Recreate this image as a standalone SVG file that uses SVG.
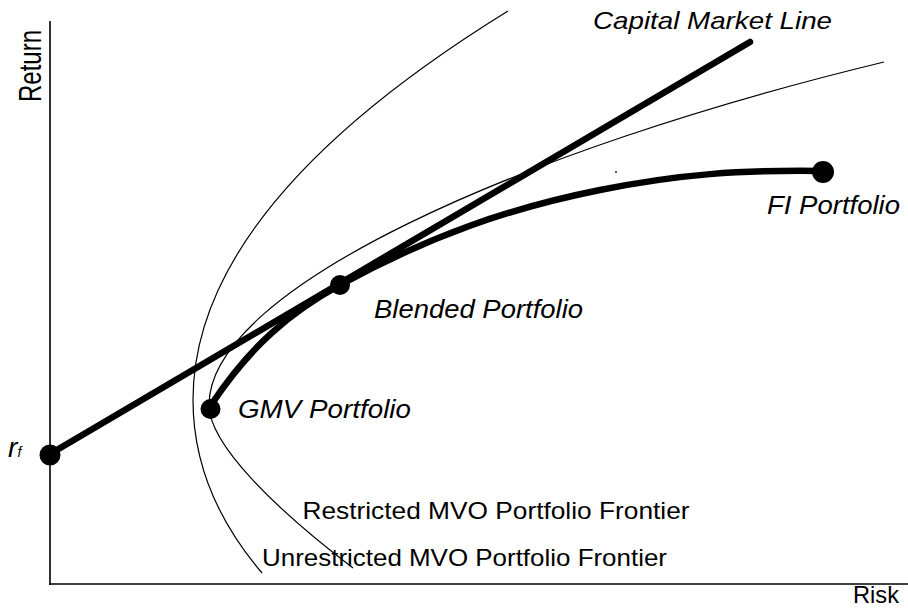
<svg xmlns="http://www.w3.org/2000/svg" width="908" height="610" viewBox="0 0 908 610">
  <style>
    .axis { stroke: #000; stroke-width: 1.6; fill: none; }
    .thin { stroke: #000; stroke-width: 1.2; fill: none; }
    .thick { stroke: #000; stroke-width: 6.5; fill: none; stroke-linecap: round; }
    .dot { fill: #000; }
    .lbl { font-family: "Liberation Sans", Arial, sans-serif; font-size: 24px; fill: #000; }
    .it { font-family: "Liberation Sans", Arial, sans-serif; font-size: 25px; font-style: italic; fill: #000; }
  </style>
  <rect width="908" height="610" fill="#fff"/>

  <g id="axes">
    <line class="axis" x1="50" y1="21" x2="50" y2="585"/>
    <line class="axis" x1="49.2" y1="584" x2="908" y2="584"/>
    <text class="lbl" transform="translate(41,102) scale(1.3,1) rotate(-90)">Return</text>
    <text class="lbl" x="853" y="603" textLength="46" lengthAdjust="spacingAndGlyphs">Risk</text>
  </g>

  <g id="connectors">
    <!-- unrestricted mean-variance frontier (near-parabolic) -->
    <path id="unrestricted-frontier" class="thin" d="M508,11 Q193,205.5 193,400 C193,440 202.5,503 262,573"/>
    <!-- restricted mean-variance frontier -->
    <path id="restricted-frontier" class="thin" d="M884,62 C520,150 209,288 209,405 C209,445 278,511 353,568"/>
    <!-- capital market line -->
    <line id="cml" class="thick" x1="50" y1="454" x2="750" y2="42"/>
    <!-- blended portfolio path from GMV to FI -->
    <path id="blend-path" class="thick" d="M211,405 C251,345 290,312.5 340,285 C430,235.5 510,208 600,190 C680,174 740,170 820,171"/>
    <circle cx="616" cy="172" r="0.9" class="dot"/>
  </g>

  <g id="risk-free">
    <circle class="dot" cx="50" cy="455" r="10.5"/>
    <text class="it" style="font-size:28px" x="8" y="457">r</text>
    <text class="it" style="font-size:14px" x="17.5" y="457">f</text>
  </g>

  <g id="gmv-portfolio">
    <circle class="dot" cx="210.5" cy="409" r="10"/>
    <text class="it" x="238" y="418" textLength="173" lengthAdjust="spacingAndGlyphs">GMV Portfolio</text>
  </g>

  <g id="blended-portfolio">
    <circle class="dot" cx="340" cy="285" r="10"/>
    <text class="it" x="374" y="318" textLength="209" lengthAdjust="spacingAndGlyphs">Blended Portfolio</text>
  </g>

  <g id="fi-portfolio">
    <circle class="dot" cx="823" cy="172" r="11"/>
    <text class="it" x="767" y="214" textLength="133" lengthAdjust="spacingAndGlyphs">FI Portfolio</text>
  </g>

  <g id="cml-label">
    <text class="it" style="font-size:24px" x="593" y="29" textLength="239" lengthAdjust="spacingAndGlyphs">Capital Market Line</text>
  </g>

  <g id="frontier-labels">
    <text class="lbl" x="302.5" y="519" textLength="387" lengthAdjust="spacingAndGlyphs">Restricted MVO Portfolio Frontier</text>
    <text class="lbl" x="262" y="566" textLength="405" lengthAdjust="spacingAndGlyphs">Unrestricted MVO Portfolio Frontier</text>
  </g>
</svg>
